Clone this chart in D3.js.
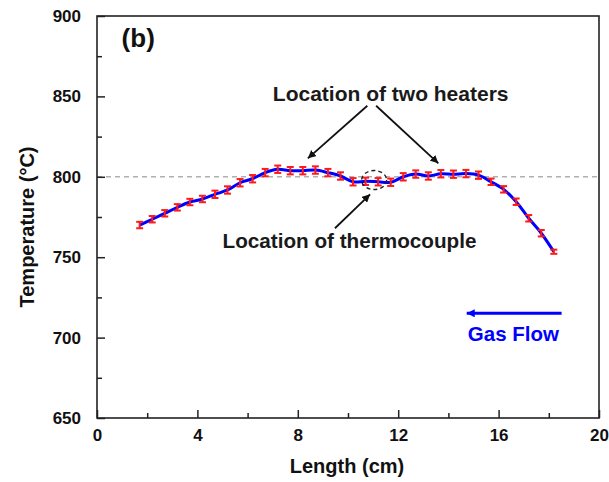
<!DOCTYPE html>
<html>
<head>
<meta charset="utf-8">
<script src="https://cdn.jsdelivr.net/npm/d3@7"></script>
<style>
  html, body { margin: 0; padding: 0; background: #fff; }
  svg text { font-family: "Liberation Sans", Arial, sans-serif; font-weight: bold; }
</style>
</head>
<body>
<svg id="chart" width="609" height="482"></svg>
<script>
// Temperature profile along the furnace tube
const lengths = [1.7, 2.2, 2.7, 3.2, 3.7, 4.2, 4.7, 5.2, 5.7, 6.2, 6.7, 7.2, 7.7, 8.2, 8.7, 9.2, 9.7,
                 10.2, 10.7, 11.2, 11.7, 12.2, 12.7, 13.2, 13.7, 14.2, 14.7, 15.2, 15.7, 16.2, 16.7, 17.2, 17.7, 18.2];
const temps = [770, 773.6, 777.3, 781, 784.3, 786.2, 789.1, 791.8, 796.3, 798.8, 802.6, 804.7, 803.8, 803.8, 804.2, 802.6, 800.5,
               796.9, 797.2, 796.9, 796.6, 800, 801.7, 800.5, 801.9, 801.6, 802, 801, 796.9, 792.2, 784.5, 774.2, 764.9, 753.4];
const errors = [2, 2, 2, 2, 2, 2, 2.3, 2.3, 2.3, 2.3, 2.3, 2.3, 2.3, 2.3, 2.3, 2.3, 2.3,
                2.3, 2.3, 2.3, 2.3, 2.3, 2.3, 2.3, 2.3, 2.3, 2.3, 2.3, 2, 2, 2, 2, 2, 1.3];

const xMajorTicks = [0, 4, 8, 12, 16, 20];
const xMinorTicks = [2, 6, 10, 14, 18];
const yMajorTicks = [650, 700, 750, 800, 850, 900];
const yMinorTicks = [675, 725, 775, 825, 875];
const setPoint = 800;

const xLabel = "Length (cm)";
const yLabel = "Temperature (°C)";
const panelLabel = "(b)";
const heaterLabel = "Location of two heaters";
const couplingLabel = "Location of thermocouple";
const flowLabel = "Gas Flow";

const margin = { left: 97, top: 16, right: 10, bottom: 64 };
const W = 609, H = 482;
const iw = W - margin.left - margin.right;
const ih = H - margin.top - margin.bottom;

const svg = d3.select("#chart");
const defs = svg.append("defs");
defs.append("marker").attr("id", "arrowBlack")
  .attr("viewBox", "0 0 10 10").attr("refX", 10).attr("refY", 5)
  .attr("markerWidth", 8).attr("markerHeight", 8).attr("markerUnits", "userSpaceOnUse")
  .attr("orient", "auto")
  .append("path").attr("d", "M0,0 L10,5 L0,10 z").attr("fill", "#111");
defs.append("marker").attr("id", "arrowBlue")
  .attr("viewBox", "0 0 10 10").attr("refX", 10).attr("refY", 5)
  .attr("markerWidth", 16).attr("markerHeight", 8).attr("markerUnits", "userSpaceOnUse")
  .attr("orient", "auto")
  .append("path").attr("d", "M0,0 L10,5 L0,10 z").attr("fill", "#0000ff");

const g = svg.append("g").attr("transform", `translate(${margin.left},${margin.top})`);

const x = d3.scaleLinear().domain([0, 20]).range([0, iw]);
const y = d3.scaleLinear().domain([650, 900]).range([ih, 0]);

// reference line at the set temperature
g.append("line")
  .attr("x1", 0).attr("x2", iw)
  .attr("y1", y(setPoint)).attr("y2", y(setPoint))
  .attr("stroke", "#b0b0b0").attr("stroke-width", 1.5).attr("stroke-dasharray", "5,4");

// axes (ticks point inward)
const axisStyle = sel => {
  sel.select(".domain").remove();
  sel.selectAll(".tick line").attr("stroke", "#222").attr("stroke-width", 1.5);
  sel.selectAll("text").attr("fill", "#111").style("font-size", "17px");
};
g.append("g").attr("transform", `translate(0,${ih})`)
  .call(d3.axisBottom(x).tickValues(xMajorTicks).tickSize(-8).tickPadding(11).tickFormat(d3.format("d")))
  .call(axisStyle);
g.append("g").attr("transform", `translate(0,${ih})`)
  .call(d3.axisBottom(x).tickValues(xMinorTicks).tickSize(-5).tickFormat(""))
  .call(axisStyle);
g.append("g")
  .call(d3.axisLeft(y).tickValues(yMajorTicks).tickSize(-8).tickPadding(16).tickFormat(d3.format("d")))
  .call(axisStyle);
g.append("g")
  .call(d3.axisLeft(y).tickValues(yMinorTicks).tickSize(-5).tickFormat(""))
  .call(axisStyle);

// frame
g.append("rect").attr("x", 0).attr("y", 0).attr("width", iw).attr("height", ih)
  .attr("fill", "none").attr("stroke", "#222").attr("stroke-width", 1.6);

// profile curve
const data = lengths.map((l, i) => ({ l, t: temps[i], e: errors[i] }));
g.append("path").datum(data)
  .attr("d", d3.line().x(d => x(d.l)).y(d => y(d.t)).curve(d3.curveCatmullRom.alpha(0.5)))
  .attr("fill", "none").attr("stroke", "#0000ff").attr("stroke-width", 3);

// error bars
const eb = g.append("g").attr("stroke", "#ff1a1a").attr("stroke-width", 2);
data.forEach(d => {
  const cx = x(d.l), y1 = y(d.t + d.e), y2 = y(d.t - d.e);
  eb.append("line").attr("x1", cx).attr("x2", cx).attr("y1", y1).attr("y2", y2);
  eb.append("line").attr("x1", cx - 3.5).attr("x2", cx + 3.5).attr("y1", y1).attr("y2", y1);
  eb.append("line").attr("x1", cx - 3.5).attr("x2", cx + 3.5).attr("y1", y2).attr("y2", y2);
});

// annotations
g.append("text").attr("x", x(0.98)).attr("y", y(880.9))
  .style("font-size", "26px").attr("fill", "#111").text(panelLabel);

g.append("text").attr("x", x(11.7)).attr("y", y(847.1)).attr("text-anchor", "middle")
  .style("font-size", "21px").attr("fill", "#1a1a1a").text(heaterLabel);
g.append("line")
  .attr("x1", x(10.77)).attr("y1", y(844.2)).attr("x2", x(8.4)).attr("y2", y(811.5))
  .attr("stroke", "#111").attr("stroke-width", 1.8).attr("marker-end", "url(#arrowBlack)");
g.append("line")
  .attr("x1", x(11.12)).attr("y1", y(844.2)).attr("x2", x(13.6)).attr("y2", y(808.4))
  .attr("stroke", "#111").attr("stroke-width", 1.8).attr("marker-end", "url(#arrowBlack)");

g.append("ellipse").attr("cx", x(11.04)).attr("cy", y(798)).attr("rx", 12.5).attr("ry", 9.5)
  .attr("fill", "none").attr("stroke", "#222").attr("stroke-width", 1.4).attr("stroke-dasharray", "4,3");
g.append("line")
  .attr("x1", x(9.48)).attr("y1", y(768)).attr("x2", x(10.88)).attr("y2", y(789.1))
  .attr("stroke", "#111").attr("stroke-width", 1.8).attr("marker-end", "url(#arrowBlack)");
g.append("text").attr("x", x(5.0)).attr("y", y(755.5))
  .style("font-size", "20.7px").attr("fill", "#1a1a1a").text(couplingLabel);

g.append("line")
  .attr("x1", x(18.51)).attr("y1", y(715.1)).attr("x2", x(14.73)).attr("y2", y(715.1))
  .attr("stroke", "#0000ff").attr("stroke-width", 3).attr("marker-end", "url(#arrowBlue)");
g.append("text").attr("x", x(16.59)).attr("y", y(698)).attr("text-anchor", "middle")
  .style("font-size", "20.5px").attr("fill", "#0000ff").text(flowLabel);

// axis titles
svg.append("text").attr("x", margin.left + iw / 2 - 1).attr("y", 473).attr("text-anchor", "middle")
  .style("font-size", "20px").attr("fill", "#111").text(xLabel);
svg.append("text").attr("transform", `translate(34,${margin.top + ih / 2 + 10}) rotate(-90)`)
  .attr("text-anchor", "middle").style("font-size", "20px").attr("fill", "#111").text(yLabel);
</script>
</body>
</html>
